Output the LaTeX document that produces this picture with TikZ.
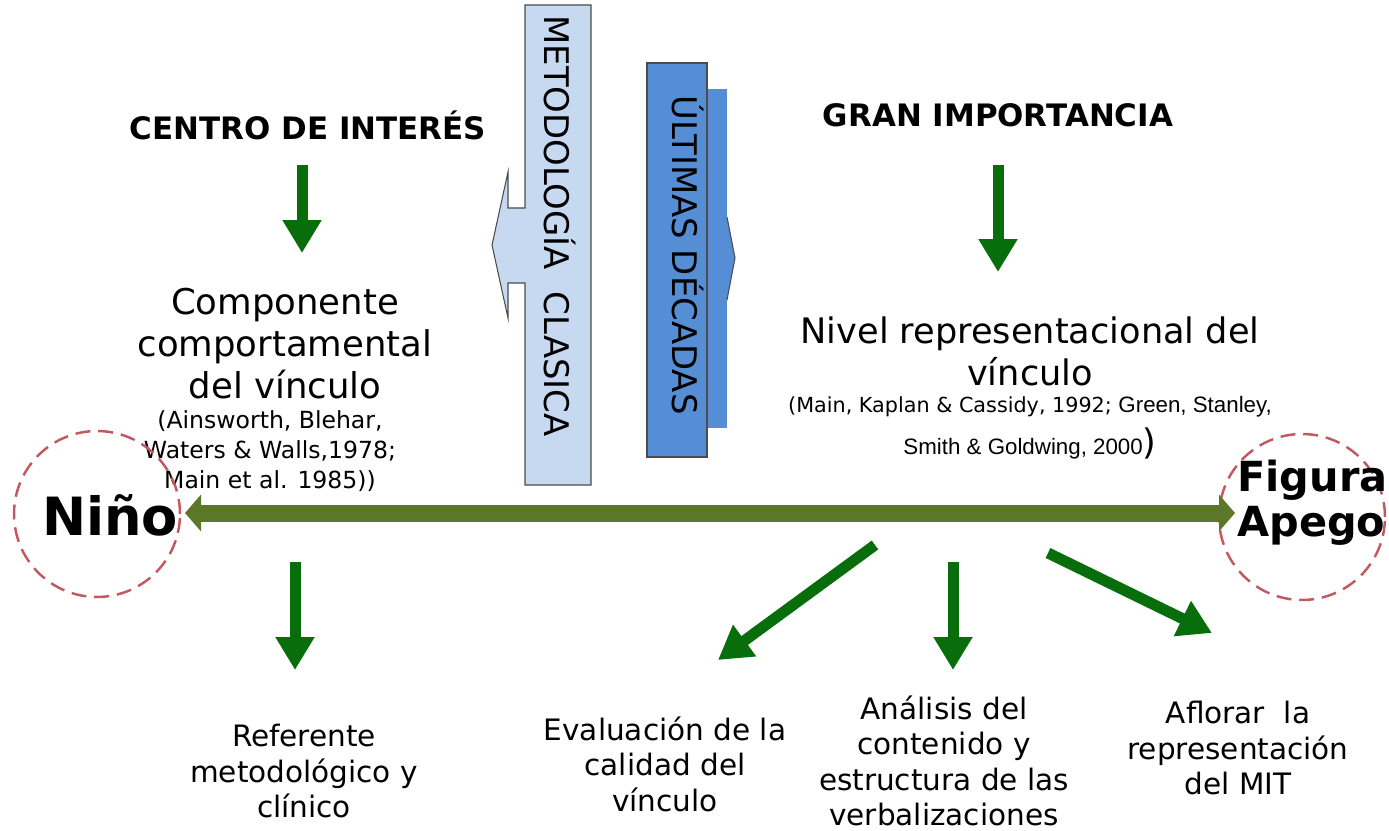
\documentclass[tikz,border=0pt]{standalone}
\usepackage{fontspec}
\setmainfont{DejaVu Sans}
\newfontfamily\arialfont{Liberation Sans}
\usetikzlibrary{arrows.meta}

\definecolor{arrowgreen}{RGB}{8,110,12}
\definecolor{axisolive}{RGB}{90,120,40}
\definecolor{circlered}{RGB}{196,88,96}
\definecolor{paleblue}{RGB}{198,217,241}
\definecolor{midblue}{RGB}{85,142,213}

\begin{document}
\begin{tikzpicture}
        [
            x = 0.02cm, y = -0.02cm,
            heading/.style    = {inner sep=0pt, font=\fontsize{17.6}{21}\selectfont\bfseries},
            bigtext/.style    = {align=center, inner sep=0pt, font=\fontsize{20.2}{23.9}\selectfont},
            reftext/.style    = {align=center, inner sep=0pt, font=\fontsize{13.4}{17}\selectfont},
            bottomtext/.style = {align=center, inner sep=0pt, font=\fontsize{16.8}{20.2}\selectfont},
            sidetext/.style   = {rotate=-90, inner sep=0pt, font=\fontsize{19.3}{22}\selectfont},
            ring/.style       = {circle, draw=circlered, line width=1.4pt, dash pattern=on 8.5pt off 4.5pt, minimum size=3.32cm},
            greenarrow/.style = {draw=arrowgreen, line width=0.22cm, -{Triangle[width=0.74cm, length=0.66cm]}},
            axisarrow/.style  = {draw=axisolive, line width=0.34cm,
                                 {Triangle[width=0.72cm, length=0.32cm]}-{Triangle[width=0.72cm, length=0.32cm]}},
        ]
        \useasboundingbox (0,0) rectangle (1389,831);

        % callouts in the middle
        \draw [fill=paleblue, draw=black!70, line width=0.6pt]
            (525,5) -- (591,5) -- (591,485) -- (525,485) -- (525,283) -- (508,283) -- (508,318)
            -- (492,245) -- (508,172) -- (508,208) -- (525,208) -- cycle;
        \fill [midblue] (706,89) rectangle (727,428);
        \draw [fill=midblue, draw=black!70, line width=0.6pt] (647,63) rectangle (707,457);
        \draw [fill=midblue, draw=black!70, line width=0.6pt] (727,217) -- (735,258) -- (727,300);
        \node [sidetext] (metodo) at (560,226) {METODOLOGÍA\ \ CLASICA};
        \node [sidetext] (ultimas) at (688,255) {ÚLTIMAS DÉCADAS};

        % left column
        \node [heading] (centro) at (308,125) {CENTRO DE INTERÉS};
        \node [bigtext] (comp) at (285,344) {Componente\\comportamental\\del vínculo};
        \node [reftext] (compref) at (270,451) {(Ainsworth, Blehar,\\Waters \& Walls,1978;\\Main et al. 1985))};

        % right column
        \node [heading] (gran) at (998,115) {GRAN IMPORTANCIA};
        \node [bigtext, font=\fontsize{20}{24}\selectfont] (nivel) at (1030,351) {Nivel representacional del\\vínculo};
        \node [align=center, inner sep=0pt, font=\fontsize{11.8}{24}\selectfont] (nivelref) at (1030,428)
            {(Main, Kaplan \& Cassidy, 1992; {\arialfont\fontsize{12.7}{24}\selectfont Green, Stanley,}\\
             {\arialfont\fontsize{12.7}{24}\selectfont Smith \& Goldwing, 2000}{\fontsize{20}{24}\selectfont)}};

        % the two ends
        \node [ring] (ninoring) at (97,514) {};
        \node [ring] (figuraring) at (1302,517) {};
        \node [inner sep=0pt, font=\fontsize{30}{36}\selectfont\bfseries] (nino) at (110,515) {Niño};
        \node [anchor=west, align=left, inner sep=0pt, font=\fontsize{23.6}{25.6}\selectfont\bfseries]
            (figura) at (1237,503) {Figura\\Apego};
        \coordinate (axisleft) at (185,513);
        \coordinate (axisright) at (1235,513);
        \draw [axisarrow] (axisleft) -- (axisright);

        % bottom row
        \node [bottomtext] (referente) at (304,771) {Referente\\metodológico y\\clínico};
        \node [bottomtext] (evaluacion) at (665,764) {Evaluación de la\\calidad del\\vínculo};
        \node [bottomtext] (analisis) at (944,761) {Análisis del\\contenido y\\estructura de las\\verbalizaciones};
        \node [bottomtext] (aflorar) at (1238,748) {Aflorar\ \ la\\representación\\del MIT};

        % green arrows
        \coordinate (a1) at (302,165);  \coordinate (b1) at (302,253);
        \coordinate (a2) at (998,165);  \coordinate (b2) at (998,272);
        \coordinate (a3) at (295,562);  \coordinate (b3) at (295,670);
        \coordinate (a4) at (875,545);  \coordinate (b4) at (718,660);
        \coordinate (a5) at (953,562);  \coordinate (b5) at (953,670);
        \coordinate (a6) at (1048,553); \coordinate (b6) at (1212,633);
        \foreach \i in {1,...,6}
            \draw [greenarrow] (a\i) -- (b\i);
    \end{tikzpicture}
\end{document}
